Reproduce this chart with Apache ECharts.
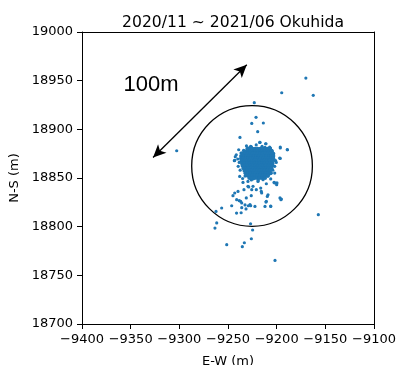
<!DOCTYPE html>
<html>
<head>
<meta charset="utf-8">
<script src="https://cdn.jsdelivr.net/npm/echarts@6/dist/echarts.min.js"></script>
<style>
  html, body { margin: 0; padding: 0; background: #fff; }
  #chart { width: 396px; height: 365px; }
</style>
</head>
<body>
<div id="chart"></div>
<script>
// axis ranges (m)
const ewRange = [-9400, -9100];
const nsRange = [18700, 19000];
const tickStep = 50;

// scattered events outside the dense core [E-W, N-S]
const scatterPoints = [
  [-9302.7, 18878], [-9194.8, 18937.6], [-9170, 18952.7], [-9162.4, 18934.9],
  [-9223, 18927.4], [-9221.2, 18912.3], [-9225.6, 18906.1], [-9213.7, 18906.5],
  [-9219.5, 18897.6], [-9237.7, 18891.7], [-9217.1, 18886.6], [-9211, 18885.2],
  [-9227.7, 18881.4], [-9206.4, 18880.8], [-9196.3, 18880.8], [-9189, 18879],
  [-9196.3, 18870.1], [-9201, 18867.5], [-9243.5, 18867.8], [-9242.5, 18871.9],
  [-9236.6, 18875.7], [-9239, 18879],
  [-9226.7, 18882.5], [-9217.4, 18886.6], [-9211.3, 18885.2], [-9207.2, 18881.8],
  [-9196.3, 18881.8], [-9189.1, 18879.1], [-9241.5, 18873.9], [-9236.3, 18875.7],
  [-9243.1, 18868.1], [-9196.9, 18870.5], [-9200.4, 18866], [-9202, 18855.1],
  [-9205.5, 18855.1], [-9238, 18851.6], [-9234.6, 18845.5], [-9229.5, 18846.5],
  [-9202, 18844.9], [-9199.7, 18844.9], [-9206.1, 18849], [-9243.1, 18834.6],
  [-9244.9, 18831.8], [-9239.7, 18836.2], [-9233.6, 18838], [-9228.7, 18840.8],
  [-9224.3, 18841.4], [-9220.9, 18838], [-9216.4, 18839.7], [-9210.6, 18844.1],
  [-9208.9, 18832.8], [-9195.2, 18828.4], [-9210.6, 18826], [-9226.1, 18831.8],
  [-9231.2, 18829.5], [-9237, 18826], [-9215.8, 18836.2], [-9224.3, 18849],
  [-9219.2, 18846.5], [-9214, 18848.3], [-9229.5, 18841.4],
  [-9246.2, 18821.5], [-9256.5, 18819.2], [-9262.3, 18815.7], [-9241.1, 18827.7],
  [-9235.9, 18824.3], [-9231.5, 18818.2], [-9227.4, 18822.6], [-9222.3, 18820.8],
  [-9225.6, 18838], [-9215.4, 18834.6], [-9209.6, 18831.1], [-9206.1, 18820.8],
  [-9196.6, 18829.5], [-9202.7, 18845.5], [-9200, 18843.1],
  [-9263.4, 18798.6], [-9261.6, 18803.8], [-9251.3, 18781.5], [-9235.3, 18779.4],
  [-9233.2, 18783.5], [-9241.2, 18814], [-9236.5, 18814.3], [-9235.9, 18819.5],
  [-9238.4, 18826.7], [-9232.5, 18822.3], [-9229.1, 18821.5],
  [-9157.2, 18812.3], [-9201.7, 18765.3], [-9226, 18787.6], [-9224.7, 18796.6],
  [-9226.8, 18803], [-9211, 18825.3], [-9212, 18820.8], [-9206.1, 18821.2],
  [-9195.6, 18827.7], [-9226.7, 18821.5],
  [-9238.5, 18866], [-9240, 18869.5], [-9234, 18878.5], [-9226, 18882],
  [-9215, 18882.5], [-9212, 18881.5], [-9203, 18875], [-9201.5, 18868],
  [-9202, 18862], [-9204, 18858], [-9226, 18848], [-9219, 18847.5],
  [-9232.5, 18852], [-9237.5, 18858], [-9209, 18852], [-9231, 18883],
  [-9221, 18884], [-9205, 18878.5], [-9239.5, 18862], [-9235, 18849.5]
];

// dense core, read row by row (N-S of row, E-W of events in it)
const coreRowNS = [18880, 18877.5, 18875, 18872.5, 18870, 18867.5, 18865,
  18862.5, 18860, 18857.5, 18855, 18852.5, 18850];
const coreRowEW = [
  [-9230, -9227.4, -9224.8, -9222.2, -9219.6, -9217, -9214.4, -9211.8, -9209.2, -9207],
  [-9233, -9230.3, -9227.7, -9225.1, -9222.5, -9219.9, -9217.3, -9214.7, -9212.1, -9209.5, -9206.9, -9205],
  [-9235, -9232.4, -9229.8, -9227.2, -9224.6, -9222, -9219.4, -9216.8, -9214.2, -9211.6, -9209, -9206.4, -9204],
  [-9236.5, -9233.7, -9231.1, -9228.5, -9225.9, -9223.3, -9220.7, -9218.1, -9215.5, -9212.9, -9210.3, -9207.7, -9205.1, -9203.5],
  [-9236.5, -9234.4, -9231.8, -9229.2, -9226.6, -9224, -9221.4, -9218.8, -9216.2, -9213.6, -9211, -9208.4, -9205.8, -9203.5],
  [-9236, -9233.3, -9230.7, -9228.1, -9225.5, -9222.9, -9220.3, -9217.7, -9215.1, -9212.5, -9209.9, -9207.3, -9204.7],
  [-9235.5, -9232.9, -9230.3, -9227.7, -9225.1, -9222.5, -9219.9, -9217.3, -9214.7, -9212.1, -9209.5, -9206.9, -9204.3],
  [-9235, -9232.2, -9229.6, -9227, -9224.4, -9221.8, -9219.2, -9216.6, -9214, -9211.4, -9208.8, -9206.2, -9204.5],
  [-9234, -9231.4, -9228.8, -9226.2, -9223.6, -9221, -9218.4, -9215.8, -9213.2, -9210.6, -9208, -9205.4],
  [-9233, -9230.4, -9227.8, -9225.2, -9222.6, -9220, -9217.4, -9214.8, -9212.2, -9209.6, -9207],
  [-9232, -9229.3, -9226.7, -9224.1, -9221.5, -9218.9, -9216.3, -9213.7, -9211.1, -9208.5, -9206.5],
  [-9230, -9227.4, -9224.8, -9222.2, -9219.6, -9217, -9214.4, -9211.8, -9209],
  [-9228, -9225.3, -9222.7, -9220.1, -9217.5, -9214.9, -9212]
];

// annotations
const ringCenter = [-9225.3, 18862.4];
const ringRadius = 62;
const arrowFrom = [-9327, 18871];
const arrowTo = [-9230.7, 18966.4];
const scaleLabel = '100m';
const scaleLabelAt = [-9329, 18946];

const titleText = '2020/11 ~ 2021/06 Okuhida';

const font = 'DejaVu Sans';
const dotColor = '#1f77b4';

const corePoints = [];
coreRowNS.forEach((ns, i) => {
  coreRowEW[i].forEach(ew => corePoints.push([ew, ns]));
});

const chart = echarts.init(document.getElementById('chart'), null, { renderer: 'canvas' });

const minus = v => String(v).replace('-', '\u2212');

const option = {
  animation: false,
  title: {
    text: titleText,
    left: 228,
    top: 10,
    textAlign: 'center',
    textStyle: { fontFamily: font, fontSize: 15.6, fontWeight: 'normal', color: '#000' }
  },
  grid: { left: 82, right: 22, top: 32, bottom: 41, outerBoundsMode: 'none' },
  xAxis: [
    {
      type: 'value',
      min: ewRange[0],
      max: ewRange[1],
      interval: tickStep,
      name: 'E-W (m)',
      nameLocation: 'middle',
      nameGap: 31,
      nameTextStyle: { fontFamily: font, fontSize: 13, color: '#000' },
      axisLine: { show: true, onZero: false, lineStyle: { color: '#000', width: 1 } },
      axisTick: { show: true, length: 5, lineStyle: { color: '#000', width: 1 } },
      axisLabel: { margin: 9, fontFamily: font, fontSize: 13, color: '#000', formatter: minus },
      splitLine: { show: false }
    },
    {
      type: 'value',
      position: 'top',
      min: ewRange[0],
      max: ewRange[1],
      axisLine: { show: true, onZero: false, lineStyle: { color: '#000', width: 1 } },
      axisTick: { show: false },
      axisLabel: { show: false },
      splitLine: { show: false }
    }
  ],
  yAxis: [
    {
      type: 'value',
      min: nsRange[0],
      max: nsRange[1],
      interval: tickStep,
      name: 'N-S (m)',
      nameLocation: 'middle',
      nameGap: 58,
      nameTextStyle: { fontFamily: font, fontSize: 13, color: '#000' },
      axisLine: { show: true, onZero: false, lineStyle: { color: '#000', width: 1 } },
      axisTick: { show: true, length: 5, lineStyle: { color: '#000', width: 1 } },
      axisLabel: { margin: 9, fontFamily: font, fontSize: 13, color: '#000', formatter: v => String(v) },
      splitLine: { show: false }
    },
    {
      type: 'value',
      position: 'right',
      min: nsRange[0],
      max: nsRange[1],
      axisLine: { show: true, onZero: false, lineStyle: { color: '#000', width: 1 } },
      axisTick: { show: false },
      axisLabel: { show: false },
      splitLine: { show: false }
    }
  ],
  series: [
    {
      type: 'scatter',
      data: scatterPoints,
      symbolSize: 3.2,
      itemStyle: { color: dotColor, opacity: 1 },
      emphasis: { disabled: true },
      silent: true,
      markLine: {
        silent: true,
        symbol: ['arrow', 'arrow'],
        symbolSize: [9, 13],
        label: { show: false },
        emphasis: { disabled: true },
        lineStyle: { color: '#000', width: 1.3, type: 'solid', opacity: 1 },
        data: [[{ coord: arrowFrom }, { coord: arrowTo }]]
      }
    },
    {
      type: 'scatter',
      data: corePoints,
      symbolSize: 4.2,
      itemStyle: { color: dotColor, opacity: 1 },
      emphasis: { disabled: true },
      silent: true
    },
    {
      type: 'custom',
      silent: true,
      data: [[ringCenter[0], ringCenter[1], ringRadius]],
      renderItem: (params, api) => {
        const c = api.coord([api.value(0), api.value(1)]);
        const r = api.size([api.value(2), 0])[0];
        return {
          type: 'circle',
          shape: { cx: c[0], cy: c[1], r: r },
          style: { fill: 'transparent', stroke: '#000', lineWidth: 1.3 }
        };
      }
    },
    {
      type: 'custom',
      silent: true,
      data: [scaleLabelAt],
      renderItem: (params, api) => {
        const p = api.coord([api.value(0), api.value(1)]);
        return {
          type: 'text',
          x: p[0],
          y: p[1],
          style: {
            text: scaleLabel,
            fontFamily: 'Liberation Sans',
            fontSize: 22,
            fill: '#000',
            align: 'center',
            verticalAlign: 'middle'
          }
        };
      }
    }
  ]
};

chart.setOption(option);
window.addEventListener('resize', () => chart.resize());
</script>
</body>
</html>
